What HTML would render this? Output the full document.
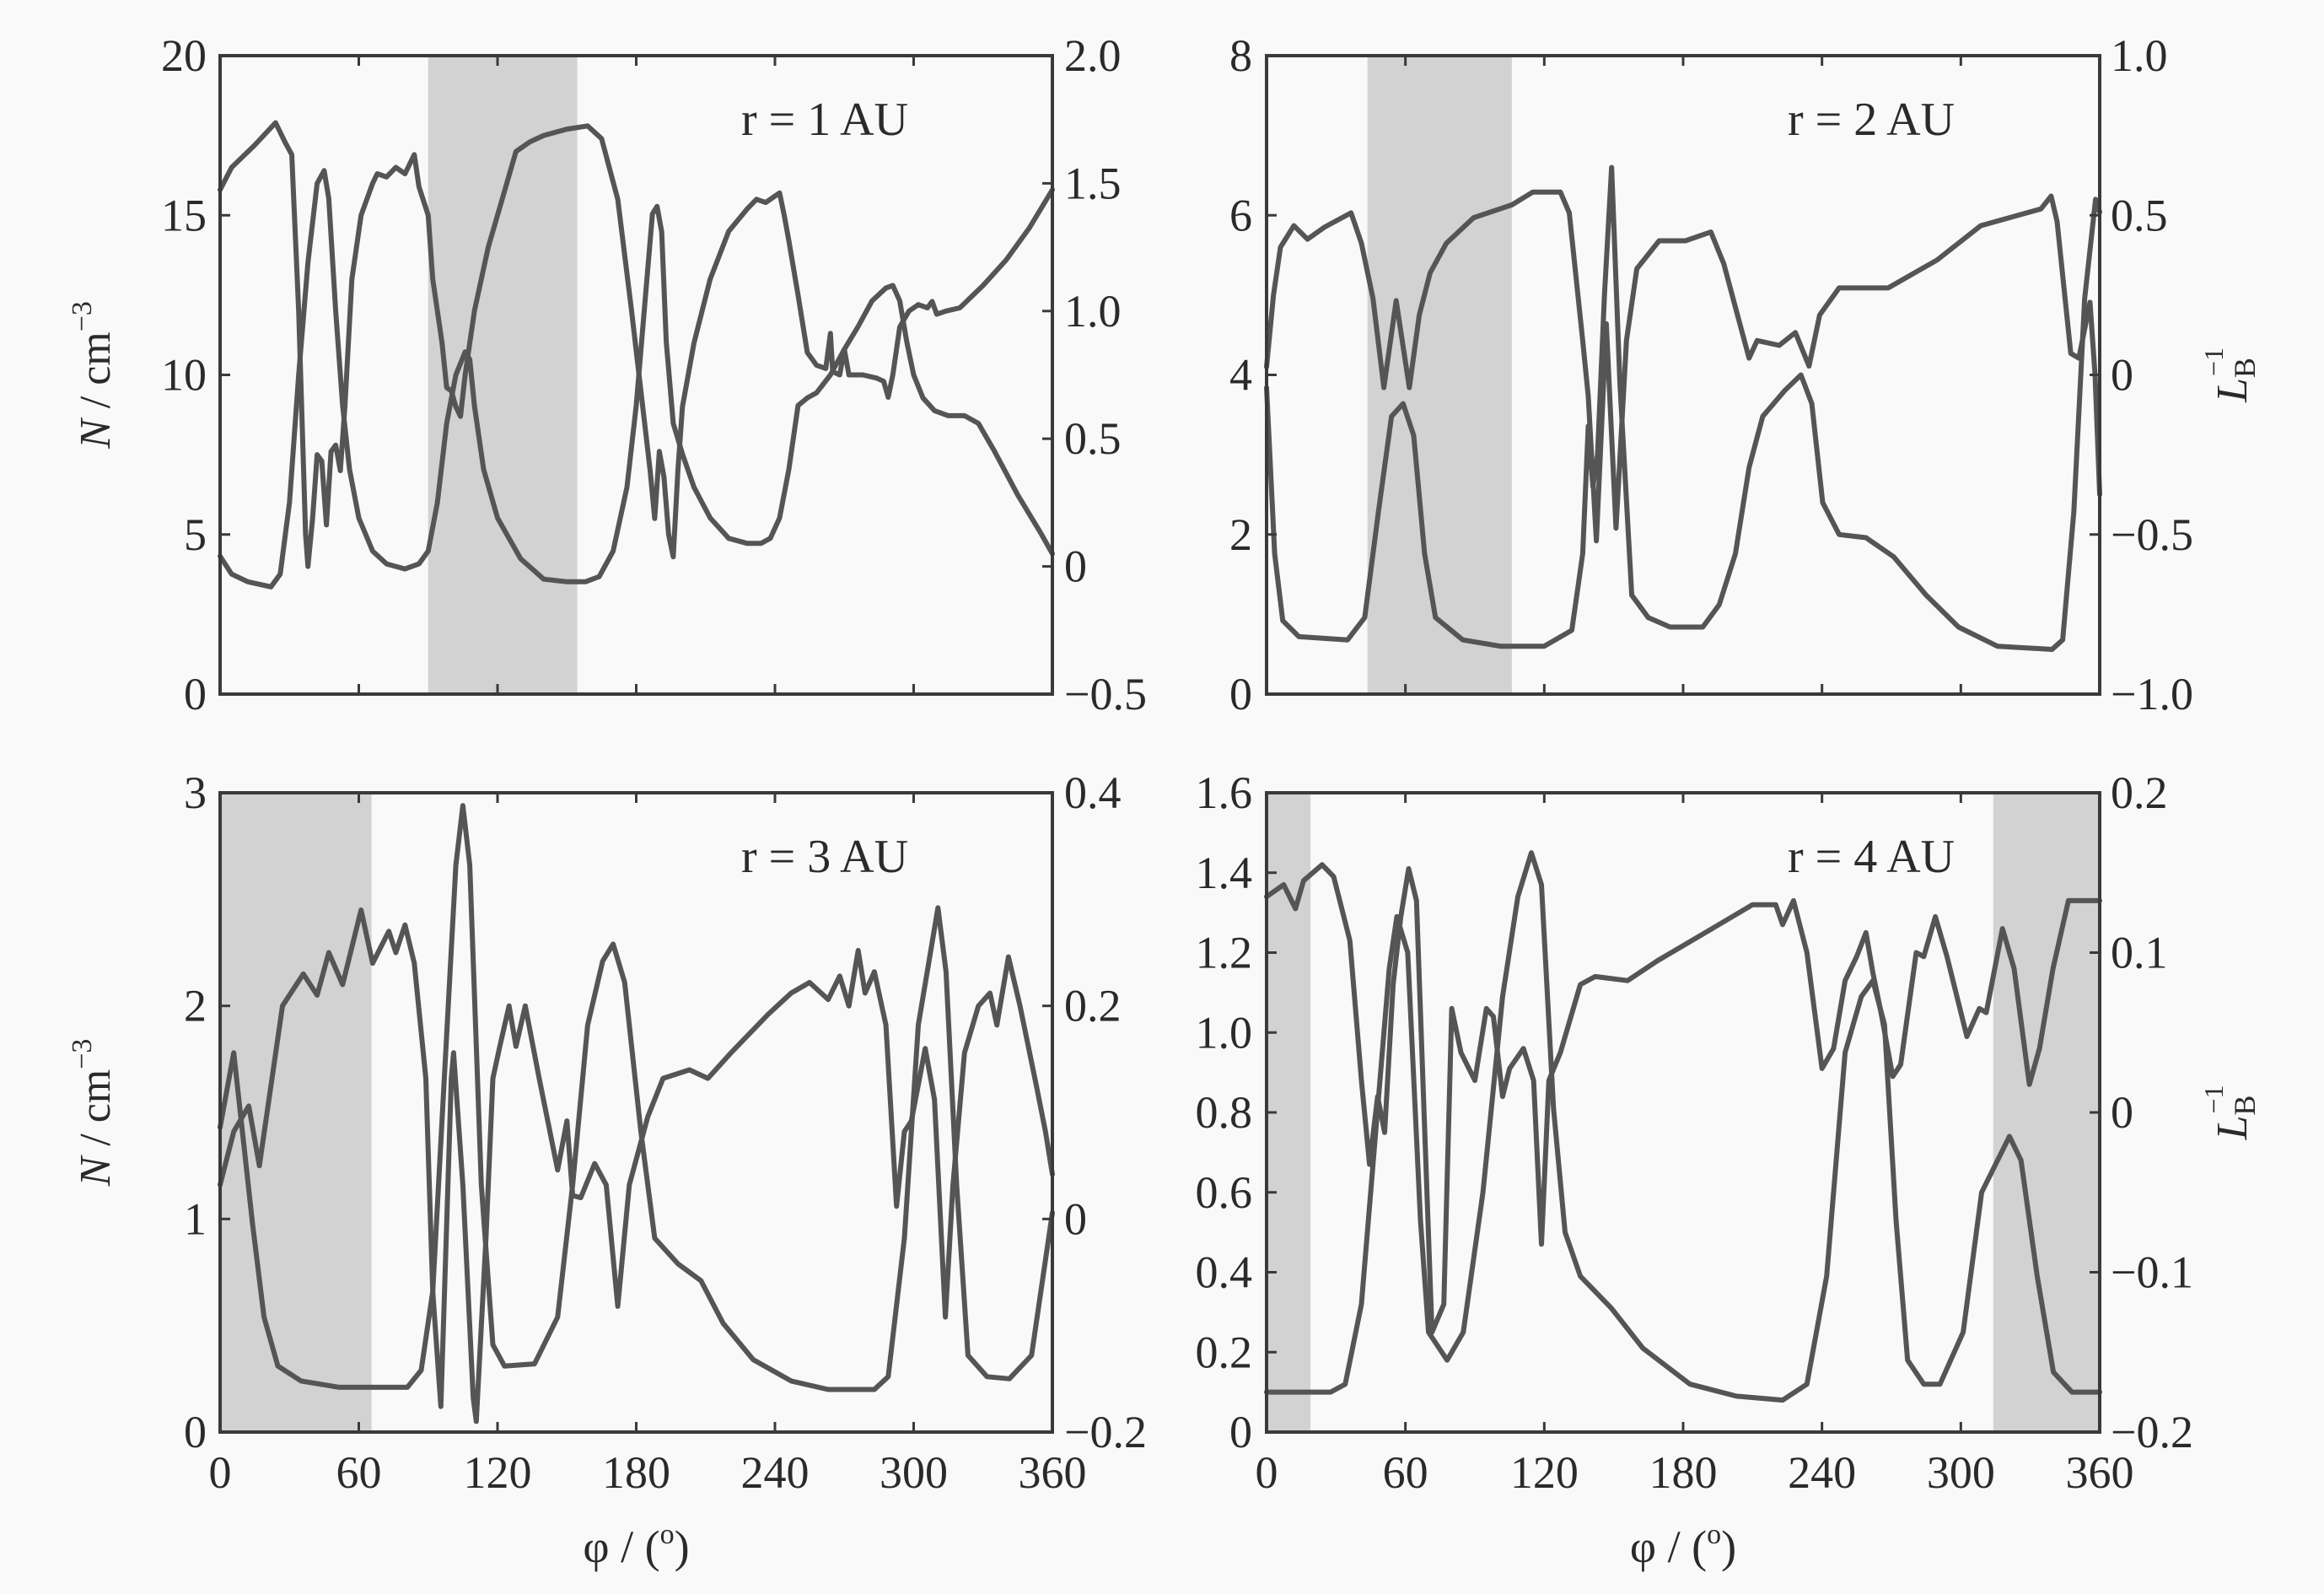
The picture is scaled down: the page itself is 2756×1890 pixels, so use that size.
<!DOCTYPE html>
<html><head><meta charset="utf-8">
<style>
html,body{margin:0;padding:0;background:#f9f9f9;}
svg{display:block;font-family:"Liberation Serif",serif;}
</style></head>
<body>
<svg id="chart" width="2756" height="1890" viewBox="0 0 2756 1890" xmlns="http://www.w3.org/2000/svg">
<rect x="0" y="0" width="2756" height="1890" fill="#f9f9f9"/>
</svg>
<script>
// ---------- data ----------
const xTicks = [0,60,120,180,240,300,360];
// Panel 1 (r = 1 AU)
const p1Title = "r = 1 AU";
const p1LeftTicks = [0,5,10,15,20];
const p1LeftTickLabels = ["0","5","10","15","20"];
const p1RightTicks = [-0.5,0,0.5,1.0,1.5,2.0];
const p1RightTickLabels = ["\u22120.5","0","0.5","1.0","1.5","2.0"];
const p1Shade = [[90,154.5]];
const p1NPhi = [0,5,15,24,28,31,34,37,38,40,42,44,46,48,50,52,54,57,61,66,68,72,76,80,84,86,90,92,96,98,100,102,104,106,110,116,122,128,134,140,150,159,165,172,178,182,186,188,190,192,194,196,198,200,205,212,220,228,232,236,240,242,244,246,250,254,258,262,264,265,268,270,272,278,284,287,289,291,294,298,302,306,308,310,314,320,330,340,350,360];
const p1N = [15.8,16.5,17.2,17.9,17.3,16.9,12,5,4.0,5.5,7.5,7.3,5.3,7.6,7.8,7.0,9,13,15,16.0,16.3,16.2,16.5,16.3,16.9,15.9,15,13,11,9.6,9.5,9.0,8.7,10,12,14,15.5,17,17.3,17.5,17.7,17.8,17.4,15.5,12,9.5,7,5.5,7.6,6.8,5,4.3,7,9,11,13,14.5,15.2,15.5,15.4,15.6,15.7,15,14.2,12.5,10.7,10.3,10.2,11.3,10.1,10.0,10.8,10.0,10.0,9.9,9.8,9.3,10,11.5,12.0,12.2,12.1,12.3,11.9,12.0,12.1,12.8,13.6,14.6,15.8];
const p1LPhi = [0,5,12,22,26,30,34,38,42,45,47,50,53,56,60,66,72,80,86,90,94,98,102,106,108,110,114,120,130,140,150,158,164,170,176,180,184,187,189,191,193,196,200,205,212,220,228,234,238,242,246,250,254,258,264,270,276,282,288,291,294,297,300,304,309,315,322,328,335,345,355,360];
const p1L = [0.04,-0.03,-0.06,-0.08,-0.03,0.25,0.75,1.19,1.5,1.55,1.44,1.0,0.63,0.38,0.19,0.06,0.01,-0.01,0.01,0.06,0.25,0.56,0.75,0.84,0.81,0.63,0.38,0.19,0.03,-0.05,-0.06,-0.06,-0.04,0.06,0.31,0.63,1.06,1.38,1.41,1.31,0.88,0.56,0.44,0.31,0.19,0.11,0.09,0.09,0.11,0.19,0.38,0.63,0.66,0.68,0.75,0.85,0.94,1.04,1.09,1.1,1.04,0.88,0.75,0.66,0.61,0.59,0.59,0.56,0.45,0.28,0.13,0.05];
// Panel 2 (r = 2 AU)
const p2Title = "r = 2 AU";
const p2LeftTicks = [0,2,4,6,8];
const p2LeftTickLabels = ["0","2","4","6","8"];
const p2RightTicks = [-1.0,-0.5,0,0.5,1.0];
const p2RightTickLabels = ["\u22121.0","\u22120.5","0","0.5","1.0"];
const p2Shade = [[43.6,106]];
const p2NPhi = [0,3,6,11.8,17.7,25,36.5,41,46,50.7,56,61.7,66,70.7,77.7,89.5,106,115,127,130.8,136.6,139,142.5,146.8,151,155.5,160,169.6,181,192,197.6,202,208.5,212,221.5,228.5,234.4,239,247.4,268.6,289.8,308.6,334.6,339,341.6,347.5,351,355.8,358,360];
const p2N = [4.1,5.0,5.6,5.87,5.7,5.85,6.03,5.65,4.96,3.84,4.93,3.84,4.75,5.28,5.65,5.97,6.13,6.29,6.29,6.03,4.43,3.73,1.92,4.64,2.08,4.43,5.33,5.68,5.68,5.79,5.39,4.91,4.21,4.43,4.37,4.53,4.11,4.75,5.09,5.09,5.44,5.87,6.08,6.24,5.92,4.27,4.21,4.91,4.0,2.5];
const p2LPhi = [0,3.5,7,14,35,42.4,48.3,54,59,63.6,68.3,73,84.8,101,120,131.9,136.6,139,141,143,146,149.1,152.7,157.8,164.9,174.4,188.5,195.6,202.6,208.5,214.4,223.8,230.9,235.6,240.3,247.4,259,271,285,299,315.8,339.4,344,348.8,353.5,358.2,360];
const p2L = [-0.04,-0.56,-0.77,-0.82,-0.83,-0.76,-0.43,-0.13,-0.09,-0.19,-0.56,-0.76,-0.83,-0.85,-0.85,-0.8,-0.56,-0.16,-0.35,-0.25,0.25,0.65,-0.03,-0.69,-0.76,-0.79,-0.79,-0.72,-0.56,-0.29,-0.13,-0.05,0,-0.09,-0.4,-0.5,-0.51,-0.57,-0.69,-0.79,-0.85,-0.86,-0.83,-0.43,0.24,0.55,0.51];
// Panel 3 (r = 3 AU)
const p3Title = "r = 3 AU";
const p3LeftTicks = [0,1,2,3];
const p3LeftTickLabels = ["0","1","2","3"];
const p3RightTicks = [-0.2,0,0.2,0.4];
const p3RightTickLabels = ["\u22120.2","0","0.2","0.4"];
const p3Shade = [[0,65.5]];
const p3NPhi = [0,5.9,12.4,17,27,36,42,47,53,61,66,73,76,80,84,89,92,95.5,100,101,105,109.5,110.8,115,118,121,125,128,132,138,146,150,152.5,156,162,167,172,177,185,191.6,203,211,221,237,247,255,263,268,272,276,279,283,288,292.6,296,299,305,309,313.7,317,322,328,333,336,341,346,353,357,360];
const p3N = [1.16,1.41,1.53,1.25,2.0,2.15,2.05,2.25,2.1,2.45,2.2,2.35,2.25,2.38,2.2,1.66,0.66,0.12,1.66,1.78,1.16,0.16,0.05,0.91,1.66,1.81,2.0,1.81,2.0,1.66,1.23,1.46,1.11,1.1,1.26,1.16,0.59,1.16,1.48,1.66,1.7,1.66,1.78,1.96,2.06,2.11,2.03,2.14,2.0,2.26,2.06,2.16,1.91,1.06,1.41,1.46,1.8,1.56,0.54,1.16,1.78,2.0,2.06,1.91,2.23,2.0,1.63,1.41,1.21];
const p3LPhi = [0,5.9,14,19,25,35,51.5,81,87,92,97,102,105,108,113,118,123,136,146,152.5,159,165.5,170,175,182,188,198,208,217.6,230.6,247,263,283,289,296,302,310.5,314,318.6,323.5,331.7,341.4,351,360];
const p3L = [0.086,0.156,-0.004,-0.092,-0.138,-0.152,-0.158,-0.158,-0.142,-0.068,0.132,0.332,0.388,0.332,0.032,-0.118,-0.138,-0.136,-0.092,0.032,0.182,0.242,0.258,0.222,0.082,-0.018,-0.042,-0.058,-0.098,-0.132,-0.152,-0.16,-0.16,-0.148,-0.018,0.182,0.292,0.232,0.032,-0.128,-0.148,-0.15,-0.128,0.006];
// Panel 4 (r = 4 AU)
const p4Title = "r = 4 AU";
const p4LeftTicks = [0,0.2,0.4,0.6,0.8,1.0,1.2,1.4,1.6];
const p4LeftTickLabels = ["0","0.2","0.4","0.6","0.8","1.0","1.2","1.4","1.6"];
const p4RightTicks = [-0.2,-0.1,0,0.1,0.2];
const p4RightTickLabels = ["\u22120.2","\u22120.1","0","0.1","0.2"];
const p4Shade = [[0,19],[314,360]];
const p4NPhi = [0,7.4,12.5,16,24,29,36,41,44.5,48,51,54.7,58,61.4,64.8,68,71.5,76.6,80,84,90,95,98,102,105,111,115.4,118.8,122,127,135.6,142,156,169,189.6,210,220,223,227.7,233.5,240,245,250,255,259,262,265.5,270.6,274,280.7,284,289,294,302.6,308,311,318,323,329.6,334,339.8,346.5,360];
const p4N = [1.34,1.37,1.31,1.38,1.42,1.39,1.23,0.88,0.67,0.84,0.75,1.12,1.29,1.41,1.33,0.81,0.25,0.32,1.06,0.95,0.88,1.06,1.04,0.84,0.91,0.96,0.88,0.47,0.88,0.95,1.12,1.14,1.13,1.18,1.25,1.32,1.32,1.27,1.33,1.2,0.91,0.96,1.13,1.19,1.25,1.15,1.05,0.89,0.92,1.2,1.19,1.29,1.19,0.99,1.06,1.05,1.26,1.16,0.87,0.96,1.16,1.33,1.33];
const p4LPhi = [0,27.7,34,41,48,53,56.3,61,66.5,70,78,85,93.5,102,108.6,114.4,118.8,124,129,135.6,149,162.6,183,203,223,233.5,242,250,257,262,267,272,277,284,291,301,309,321,326,333,340,348,360];
const p4L = [-0.175,-0.175,-0.17,-0.12,0.0025,0.09,0.1225,0.1,-0.0675,-0.1375,-0.155,-0.1375,-0.05,0.0725,0.135,0.1625,0.1425,0.0025,-0.075,-0.1025,-0.1225,-0.1475,-0.17,-0.1775,-0.18,-0.17,-0.1025,0.0375,0.0725,0.0825,0.055,-0.0675,-0.155,-0.17,-0.17,-0.1375,-0.05,-0.015,-0.03,-0.1025,-0.1625,-0.175,-0.175];

// ---------- rendering ----------
const NS = "http://www.w3.org/2000/svg";
const svg = document.getElementById("chart");
function mk(tag, attrs, parent){
  const e = document.createElementNS(NS, tag);
  for (const k in attrs) e.setAttribute(k, attrs[k]);
  (parent||svg).appendChild(e);
  return e;
}
const panels = [
  {id:"p1", x0:261, x1:1248, y0:66, y1:823, title:p1Title, lt:p1LeftTicks, ll:p1LeftTickLabels, rt:p1RightTicks, rl:p1RightTickLabels, shade:p1Shade, nPhi:p1NPhi, n:p1N, lPhi:p1LPhi, l:p1L, xLabels:false, leftTitle:true, rightTitle:false, lx:245, rx:1262},
  {id:"p2", x0:1502, x1:2490, y0:66, y1:823, title:p2Title, lt:p2LeftTicks, ll:p2LeftTickLabels, rt:p2RightTicks, rl:p2RightTickLabels, shade:p2Shade, nPhi:p2NPhi, n:p2N, lPhi:p2LPhi, l:p2L, xLabels:false, leftTitle:false, rightTitle:true, lx:1485, rx:2503},
  {id:"p3", x0:261, x1:1248, y0:940, y1:1698, title:p3Title, lt:p3LeftTicks, ll:p3LeftTickLabels, rt:p3RightTicks, rl:p3RightTickLabels, shade:p3Shade, nPhi:p3NPhi, n:p3N, lPhi:p3LPhi, l:p3L, xLabels:true, leftTitle:true, rightTitle:false, lx:245, rx:1262},
  {id:"p4", x0:1502, x1:2490, y0:940, y1:1698, title:p4Title, lt:p4LeftTicks, ll:p4LeftTickLabels, rt:p4RightTicks, rl:p4RightTickLabels, shade:p4Shade, nPhi:p4NPhi, n:p4N, lPhi:p4LPhi, l:p4L, xLabels:true, leftTitle:false, rightTitle:true, lx:1485, rx:2503}
];
const txt = "#2a2a2a", axc = "#3a3a3a", lc = "#555555";
const FS = 54;
panels.forEach(p => {
  const g = mk("g", {});
  
  
  const lMin = p.lt[0], lMax = p.lt[p.lt.length-1];
  const rMin = p.rt[0], rMax = p.rt[p.rt.length-1];
  const X = v => p.x0 + (v/360)*(p.x1-p.x0);
  const YL = v => p.y1 - (v-lMin)/(lMax-lMin)*(p.y1-p.y0);
  const YR = v => p.y1 - (v-rMin)/(rMax-rMin)*(p.y1-p.y0);
  p.shade.forEach((s,i) => {
    const r = mk("rect", {x:X(s[0]), y:p.y0, width:X(s[1])-X(s[0]), height:p.y1-p.y0, fill:"#d2d2d2"}, g);
    
    
  });
  const ptsN = p.nPhi.map((ph,i) => X(ph).toFixed(1)+","+YL(p.n[i]).toFixed(1)).join(" ");
  const cN = mk("polyline", {points:ptsN, fill:"none", stroke:lc, "stroke-width":6, "stroke-linejoin":"round", "stroke-linecap":"round"}, g);
  
  
  const ptsL = p.lPhi.map((ph,i) => X(ph).toFixed(1)+","+YR(p.l[i]).toFixed(1)).join(" ");
  const cL = mk("polyline", {points:ptsL, fill:"none", stroke:lc, "stroke-width":6, "stroke-linejoin":"round", "stroke-linecap":"round"}, g);
  
  
  const fr = mk("rect", {x:p.x0, y:p.y0, width:p.x1-p.x0, height:p.y1-p.y0, fill:"none", stroke:axc, "stroke-width":4}, g);
  
  
  xTicks.forEach(t => {
    const x = X(t);
    const tk = mk("path", {d:`M${x},${p.y1}v-12M${x},${p.y0}v12`, stroke:axc, "stroke-width":3}, g);
    
    
    if (p.xLabels) {
      const tl = mk("text", {x:x, y:p.y1+66, "text-anchor":"middle", "font-size":FS, fill:txt}, g);
      tl.textContent = String(t);
      
      
    }
  });
  p.lt.forEach((t,i) => {
    const y = YL(t);
    const tk = mk("path", {d:`M${p.x0},${y}h12`, stroke:axc, "stroke-width":3}, g);
    
    
    const tl = mk("text", {x:p.lx, y:y+18, "text-anchor":"end", "font-size":FS, fill:txt}, g);
    tl.textContent = p.ll[i];
    
    
  });
  p.rt.forEach((t,i) => {
    const y = YR(t);
    const tk = mk("path", {d:`M${p.x1},${y}h-12`, stroke:axc, "stroke-width":3}, g);
    
    
    const tl = mk("text", {x:p.rx, y:y+18, "text-anchor":"start", "font-size":FS, fill:txt}, g);
    tl.textContent = p.rl[i];
    
    
  });
  const tt = mk("text", {x:p.x0+618, y:p.y0+94, "font-size":56, fill:txt}, g);
  tt.textContent = p.title;
  
  
  if (p.leftTitle) {
    const cy = (p.y0+p.y1)/2;
    const yt = mk("text", {x:0, y:0, transform:`translate(130,${cy}) rotate(-90)`, "text-anchor":"middle", "font-size":52, fill:txt}, g);
    yt.innerHTML = '<tspan font-style="italic">N</tspan> / cm<tspan font-size="34" dy="-22">\u22123</tspan>';
    
    
  }
  if (p.rightTitle) {
    const cy = (p.y0+p.y1)/2;
    const yt = mk("text", {x:0, y:0, transform:`translate(2664,${cy}) rotate(-90)`, "text-anchor":"middle", "font-size":52, fill:txt}, g);
    yt.innerHTML = '<tspan font-style="italic">L</tspan><tspan font-size="36" dy="10">B</tspan><tspan font-size="32" dx="-22" dy="-38">\u22121</tspan>';
    
    
  }
  if (p.xLabels) {
    const cx = (p.x0+p.x1)/2;
    const xt = mk("text", {x:cx, y:1852, "text-anchor":"middle", "font-size":54, fill:txt}, g);
    xt.innerHTML = '\u03c6 / (<tspan font-size="34" dy="-22">o</tspan><tspan dy="22">)</tspan>';
    
    
  }
});
</script>
</body></html>
